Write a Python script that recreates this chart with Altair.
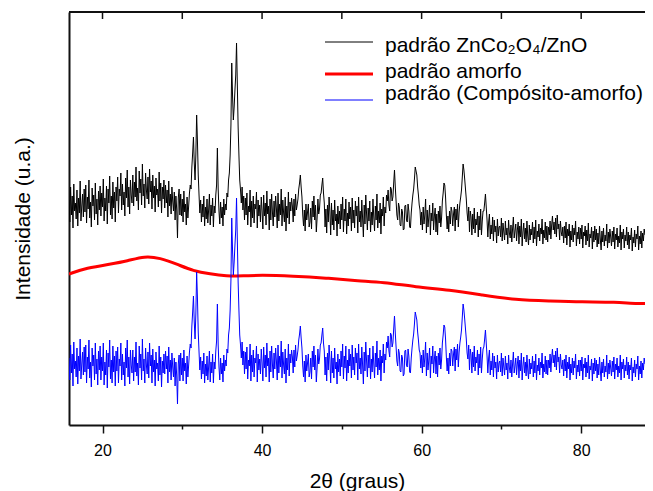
import altair as alt
import pandas as pd

# 2theta sampling grid of the diffractograms
theta_start = 15.8
theta_step = 0.1

# padrão ZnCo2O4/ZnO (black), intensity in arbitrary units
znco_zno = [
    225, 203, 238, 210, 229, 197, 241, 214, 222, 206, 235, 199, 227, 212, 244, 204, 219, 231, 208, 236,
    213, 240, 202, 228, 216, 245, 207, 223, 198, 237, 219, 230, 205, 242, 211, 226, 200, 234, 215, 239,
    209, 232, 218, 246, 204, 227, 214, 239, 201, 236, 222, 249, 210, 229, 206, 243, 217, 233, 203, 238,
    224, 248, 212, 236, 229, 252, 215, 241, 220, 233, 209, 247, 227, 255, 218, 238, 211, 245, 230, 222,
    250, 219, 243, 228, 258, 224, 237, 215, 254, 232, 246, 220, 261, 229, 241, 217, 252, 235, 226, 248,
    221, 256, 233, 244, 216, 250, 227, 239, 213, 247, 230, 236, 218, 253, 224, 242, 212, 238, 226, 245,
    217, 240, 222, 235, 208, 244, 219, 231, 211, 238, 224, 214, 233, 205, 229, 216, 187, 227, 236, 210,
    231, 209, 226, 203, 234, 213, 221, 200, 228, 207, 219, 232, 240, 236, 258, 272, 288, 262, 245, 270,
    310, 284, 250, 230, 212, 225, 203, 221, 208, 229, 199, 218, 206, 226, 202, 215, 231, 200, 220, 209,
    227, 198, 219, 212, 230, 240, 277, 236, 214, 201, 223, 207, 218, 199, 226, 210, 221, 215, 232, 228,
    245, 252, 270, 300, 362, 330, 305, 318, 335, 350, 382, 340, 298, 270, 245, 235, 222, 238, 215, 229,
    205, 227, 210, 232, 200, 219, 213, 235, 198, 224, 207, 229, 202, 221, 216, 233, 197, 225, 209, 220,
    203, 228, 214, 196, 230, 209, 222, 200, 234, 211, 219, 195, 226, 205, 231, 213, 199, 224, 208, 229,
    216, 197, 232, 204, 221, 210, 236, 199, 225, 212, 203, 228, 194, 219, 207, 233, 201, 223, 214, 227,
    219, 203, 226, 209, 231, 215, 220, 226, 236, 242, 250, 238, 228, 210, 199, 215, 194, 221, 205, 213,
    221, 198, 203, 217, 196, 224, 208, 229, 205, 220, 193, 207, 226, 211, 216, 230, 232, 240, 247, 232,
    222, 198, 216, 192, 220, 203, 228, 213, 190, 222, 200, 215, 195, 225, 204, 211, 189, 219, 201, 214,
    196, 221, 205, 228, 193, 216, 204, 226, 191, 212, 199, 223, 206, 218, 194, 227, 202, 215, 197, 224,
    209, 219, 192, 228, 203, 214, 198, 225, 207, 188, 220, 201, 230, 211, 195, 217, 204, 224, 193, 213,
    200, 226, 208, 194, 219, 205, 231, 197, 214, 202, 222, 191, 216, 209, 228, 199, 218, 212, 230, 224,
    235, 220, 214, 238, 236, 224, 228, 242, 255, 238, 224, 210, 205, 222, 218, 200, 199, 216, 213, 195,
    196, 219, 220, 205, 203, 221, 214, 198, 197, 212, 222, 230, 236, 246, 258, 254, 250, 238, 230, 220,
    215, 200, 213, 195, 218, 201, 210, 226, 192, 215, 198, 208, 220, 190, 212, 204, 222, 195, 209, 217,
    193, 211, 190, 214, 202, 219, 198, 207, 224, 232, 242, 240, 228, 210, 196, 209, 193, 214, 201, 218,
    214, 199, 211, 218, 194, 216, 205, 221, 198, 213, 222, 228, 235, 248, 261, 255, 246, 236, 226, 212,
    204, 218, 193, 214, 208, 190, 211, 196, 217, 192, 206, 200, 213, 188, 209, 195, 216, 190, 204, 214,
    214, 222, 231, 218, 205, 188, 203, 211, 186, 200, 191, 208, 184, 205, 193, 199, 182, 206, 189, 198,
    199, 188, 207, 184, 202, 193, 185, 204, 190, 197, 181, 205, 192, 187, 200, 183, 196, 208, 187, 194,
    201, 184, 195, 203, 181, 199, 188, 206, 179, 193, 202, 186, 197, 183, 204, 189, 180, 200, 185, 196,
    190, 203, 182, 198, 186, 205, 179, 194, 188, 201, 184, 197, 191, 206, 181, 195, 187, 203, 185, 199,
    183, 198, 190, 204, 186, 200, 209, 195, 203, 191, 207, 188, 210, 196, 201, 185, 204, 193, 189, 198,
    182, 199, 187, 203, 180, 196, 189, 201, 178, 194, 185, 200, 183, 197, 190, 204, 179, 193, 186, 198,
    181, 197, 186, 200, 177, 193, 189, 199, 180, 195, 184, 202, 178, 191, 187, 198, 176, 194, 183, 199,
    185, 196, 178, 192, 181, 199, 186, 175, 194, 183, 197, 179, 190, 184, 201, 177, 193, 182, 196, 188,
    179, 194, 183, 198, 176, 191, 185, 197, 178, 189, 182, 200, 175, 193, 186, 196, 177, 190, 184, 198,
    180, 193, 176, 190, 185, 197, 174, 188, 182, 195, 178, 191, 186, 199, 175, 189, 181, 194, 177, 192,
    184, 196, 190,
]

# padrão (Compósito-amorfo) (blue)
composito = [
    67, 45, 80, 52, 71, 39, 83, 56, 64, 48, 77, 41, 69, 54, 86, 46, 61, 73, 50, 78,
    53, 80, 42, 68, 56, 85, 47, 63, 38, 77, 59, 70, 45, 82, 51, 66, 40, 74, 55, 79,
    45, 68, 54, 82, 40, 63, 50, 75, 37, 72, 58, 85, 46, 65, 42, 79, 53, 69, 39, 74,
    54, 78, 42, 66, 59, 82, 45, 71, 50, 63, 39, 77, 57, 85, 48, 68, 41, 75, 60, 52,
    75, 44, 68, 53, 83, 49, 62, 40, 79, 57, 71, 45, 86, 54, 66, 42, 77, 60, 51, 73,
    47, 82, 59, 70, 42, 76, 53, 65, 39, 73, 56, 62, 44, 79, 50, 68, 38, 64, 52, 71,
    51, 74, 56, 69, 42, 78, 53, 65, 45, 72, 58, 48, 67, 39, 63, 50, 21, 61, 70, 44,
    72, 50, 67, 44, 75, 54, 62, 41, 69, 48, 60, 73, 81, 77, 99, 113, 129, 103, 86, 111,
    153, 127, 93, 73, 55, 68, 46, 64, 51, 72, 42, 61, 49, 69, 45, 58, 74, 43, 63, 52,
    71, 42, 63, 56, 74, 84, 121, 80, 58, 45, 67, 51, 62, 43, 70, 54, 65, 59, 76, 72,
    90, 97, 115, 145, 207, 175, 150, 163, 180, 195, 227, 185, 143, 115, 90, 80, 67, 83, 60, 74,
    51, 73, 56, 78, 46, 65, 59, 81, 44, 70, 53, 75, 48, 67, 62, 79, 43, 71, 55, 66,
    51, 76, 62, 44, 78, 57, 70, 48, 82, 59, 67, 43, 74, 53, 79, 61, 47, 72, 56, 77,
    64, 45, 80, 52, 69, 58, 84, 47, 73, 60, 51, 76, 42, 67, 55, 81, 49, 71, 62, 75,
    68, 52, 75, 58, 80, 64, 69, 75, 85, 91, 99, 87, 77, 59, 48, 64, 43, 70, 54, 62,
    71, 48, 53, 67, 46, 74, 58, 79, 55, 70, 43, 57, 76, 61, 66, 80, 82, 90, 97, 82,
    74, 50, 68, 44, 72, 55, 80, 65, 42, 74, 52, 67, 47, 77, 56, 63, 41, 71, 53, 66,
    49, 74, 58, 81, 46, 69, 57, 79, 44, 65, 52, 76, 59, 71, 47, 80, 55, 68, 50, 77,
    62, 72, 45, 81, 56, 67, 51, 78, 60, 41, 73, 54, 83, 64, 48, 70, 57, 77, 46, 66,
    53, 79, 61, 47, 72, 58, 84, 50, 67, 55, 75, 44, 69, 62, 81, 52, 71, 65, 83, 77,
    89, 74, 68, 92, 90, 78, 82, 96, 109, 92, 78, 64, 59, 76, 72, 54, 53, 70, 67, 49,
    51, 74, 75, 60, 58, 76, 69, 53, 52, 67, 77, 85, 91, 101, 113, 109, 105, 93, 85, 75,
    72, 57, 70, 52, 75, 58, 67, 83, 49, 72, 55, 65, 77, 47, 69, 61, 79, 52, 66, 74,
    51, 69, 48, 72, 60, 77, 56, 65, 82, 90, 100, 98, 86, 68, 54, 67, 51, 72, 59, 76,
    74, 59, 71, 78, 54, 76, 65, 81, 58, 73, 82, 88, 95, 108, 121, 115, 106, 96, 86, 72,
    66, 80, 55, 76, 70, 52, 73, 58, 79, 54, 68, 62, 75, 50, 71, 57, 78, 52, 66, 76,
    78, 86, 95, 82, 69, 52, 67, 75, 50, 64, 55, 72, 48, 69, 57, 63, 46, 70, 53, 62,
    64, 53, 72, 49, 67, 58, 50, 69, 55, 62, 46, 70, 57, 52, 65, 48, 61, 73, 52, 59,
    67, 50, 61, 69, 47, 65, 54, 72, 45, 59, 68, 52, 63, 49, 70, 55, 46, 66, 51, 62,
    56, 69, 48, 64, 52, 71, 45, 60, 54, 67, 50, 63, 57, 72, 47, 61, 53, 69, 51, 65,
    50, 65, 57, 71, 53, 67, 76, 62, 70, 58, 74, 55, 77, 63, 68, 52, 71, 60, 56, 65,
    49, 66, 54, 70, 47, 63, 56, 68, 45, 61, 52, 67, 50, 64, 57, 71, 46, 60, 53, 65,
    49, 65, 54, 68, 45, 61, 57, 67, 48, 63, 52, 70, 46, 59, 55, 66, 44, 62, 51, 67,
    54, 65, 47, 61, 50, 68, 55, 44, 63, 52, 66, 48, 59, 53, 70, 46, 62, 51, 65, 57,
    49, 64, 53, 68, 46, 61, 55, 67, 48, 59, 52, 70, 45, 63, 56, 66, 47, 60, 54, 68,
    50, 63, 46, 60, 55, 67, 44, 58, 52, 65, 48, 61, 56, 69, 45, 59, 51, 64, 47, 62,
    55, 67, 61,
]

# padrão amorfo (red, smooth)
amorfo_2theta = [15.8, 18, 21, 23.1, 25.3, 27.2, 29.3, 31.4, 33.5, 35.5, 37.7, 39.7, 43.9, 48,
                 52.2, 55.1, 59.3, 63.5, 67.6, 71.8, 76, 80.1, 84.3, 87.2, 89]
amorfo_int = [151, 157, 161, 164, 169, 167, 161, 154, 151, 149, 149, 150, 149, 147,
              144, 143, 138, 135, 130, 125, 124, 123, 123, 121, 122]

x_ticks = [20, 30, 40, 50, 60, 70, 80]

legend_labels = ["padrão ZnCo₂O₄/ZnO", "padrão amorfo", "padrão (Compósito-amorfo)"]
legend_colors = ["#000000", "#ff0000", "#0000ff"]
legend_widths = [1, 3, 1]

two_theta = [round(theta_start + theta_step * i, 1) for i in range(len(znco_zno))]

df_black = pd.DataFrame({"x": two_theta, "y": znco_zno})
df_blue = pd.DataFrame({"x": two_theta, "y": composito})
df_red = pd.DataFrame({"x": amorfo_2theta, "y": amorfo_int})
df_ticks = pd.DataFrame({"t": x_ticks})

FONT = "Liberation Sans"
XDOM = [15.8, 88.0]
YDOM = [0, 413]
W, H = 576, 413

x_enc = alt.X(
    "x:Q",
    scale=alt.Scale(domain=XDOM, nice=False, zero=False),
    axis=alt.Axis(
        title="2θ (graus)",
        values=x_ticks,
        labelExpr="datum.value % 20 === 0 ? datum.label : ''",
        tickSize={"condition": {"test": "datum.value % 20 === 0", "value": 8}, "value": 4},
        tickColor="#111", tickWidth=1.5,
        domainColor="#111", domainWidth=2,
        labelFont=FONT, labelFontSize=16, labelColor="#000", labelPadding=9,
        titleFont=FONT, titleFontSize=21, titleFontWeight="normal", titleColor="#000",
        titlePadding=12, grid=False,
    ),
)
y_enc = alt.Y(
    "y:Q",
    scale=alt.Scale(domain=YDOM, nice=False, zero=False),
    axis=alt.Axis(
        title="Intensidade (u.a.)", labels=False, ticks=False,
        domainColor="#111", domainWidth=2,
        titleFont=FONT, titleFontSize=21, titleFontWeight="normal", titleColor="#000",
        titlePadding=36, grid=False,
    ),
)

black = alt.Chart(df_black).mark_line(color="#000000", strokeWidth=1, clip=True).encode(x=x_enc, y=y_enc)
red = alt.Chart(df_red).mark_line(color="#ff0000", strokeWidth=3, interpolate="basis", clip=True).encode(
    x="x:Q", y="y:Q")
blue = alt.Chart(df_blue).mark_line(color="#0000ff", strokeWidth=1, clip=True).encode(x="x:Q", y="y:Q")

top_ticks = alt.Chart(df_ticks).mark_rule(color="#111", strokeWidth=1.5).encode(
    x="t:Q", y=alt.value(0), y2=alt.value(7))
top_line = alt.Chart(df_ticks.head(1)).mark_rule(color="#111", strokeWidth=2).encode(
    x=alt.value(0), x2=alt.value(W), y=alt.value(0))

layers = [black, red, blue, top_ticks, top_line]
leg_line_y = [30, 62, 88]
leg_text_y = [40, 66, 88]
for lab, col, w, ly, ty in zip(legend_labels, legend_colors, legend_widths, leg_line_y, leg_text_y):
    layers.append(alt.Chart(df_ticks.head(1)).mark_rule(color=col, strokeWidth=w).encode(
        x=alt.value(256), x2=alt.value(304), y=alt.value(ly)))
    layers.append(alt.Chart(df_ticks.head(1)).mark_text(
        text=lab, align="left", baseline="alphabetic", font=FONT, fontSize=21, color="#000").encode(
        x=alt.value(316), y=alt.value(ty)))

chart = alt.layer(*layers).properties(
    width=W, height=H,
    autosize=alt.AutoSizeParams(type="none"),
    padding={"left": 61, "top": 4, "right": 0, "bottom": 66},
).configure_view(stroke=None)

chart.save("out.html", embed_options={"renderer": "svg", "actions": False})
